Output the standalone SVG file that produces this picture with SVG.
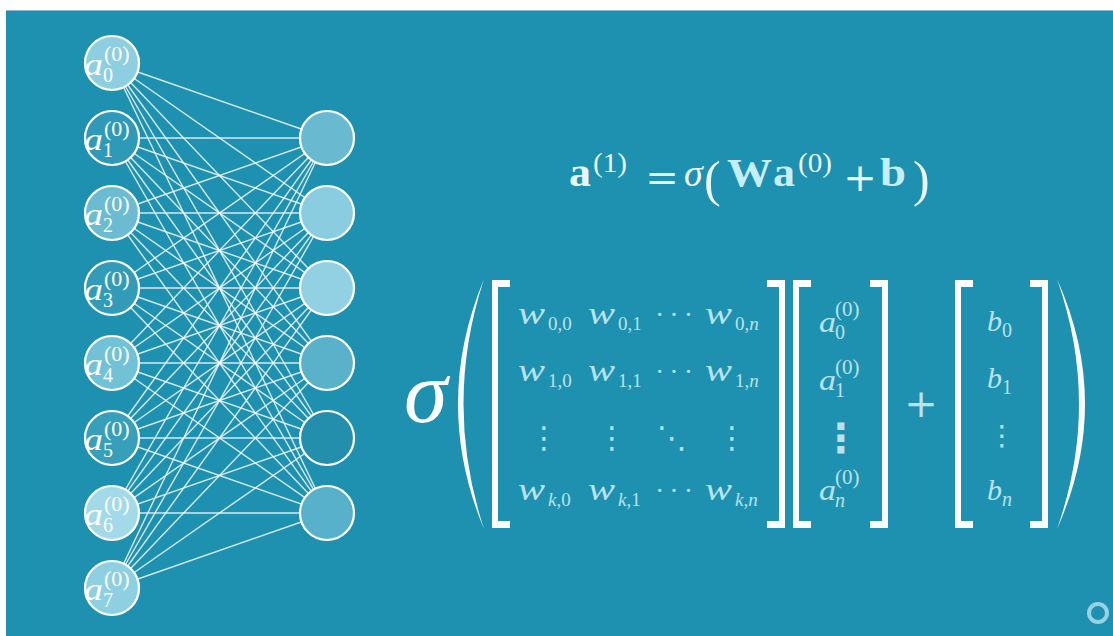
<svg xmlns="http://www.w3.org/2000/svg" width="1113" height="636" viewBox="0 0 1113 636">
<style>
.node{stroke:#ffffff;stroke-width:2.2}
.edge{stroke:#ffffff;stroke-opacity:0.8;stroke-width:1.4}
.lab{font-family:"Liberation Serif",serif;fill:#ffffff}
.it{font-style:italic}
.bd{font-weight:bold}
.f{font-family:"Liberation Serif",serif;fill:#e9f5f8}
.fc{font-family:"Liberation Serif",serif;fill:#c6eef8}
.m{font-family:"Liberation Serif",serif;fill:#b7e3ee}
.sym{font-family:"DejaVu Serif",serif}
.dots{font-family:"DejaVu Sans",sans-serif}
.br{fill:#ffffff}
</style>
<rect x="0" y="0" width="1113" height="636" fill="#ffffff"/>
<rect x="6" y="10" width="1107" height="626" fill="#1f91b0"/>
<line x1="6" y1="10.5" x2="1113" y2="10.5" stroke="#8fb8e0" stroke-width="1"/>

<g id="connectors">
<line class="edge" x1="112" y1="63" x2="327" y2="138"/><line class="edge" x1="112" y1="63" x2="327" y2="213"/><line class="edge" x1="112" y1="63" x2="327" y2="288"/><line class="edge" x1="112" y1="63" x2="327" y2="363"/><line class="edge" x1="112" y1="63" x2="327" y2="438"/><line class="edge" x1="112" y1="63" x2="327" y2="513"/>
<line class="edge" x1="112" y1="138" x2="327" y2="138"/><line class="edge" x1="112" y1="138" x2="327" y2="213"/><line class="edge" x1="112" y1="138" x2="327" y2="288"/><line class="edge" x1="112" y1="138" x2="327" y2="363"/><line class="edge" x1="112" y1="138" x2="327" y2="438"/><line class="edge" x1="112" y1="138" x2="327" y2="513"/>
<line class="edge" x1="112" y1="213" x2="327" y2="138"/><line class="edge" x1="112" y1="213" x2="327" y2="213"/><line class="edge" x1="112" y1="213" x2="327" y2="288"/><line class="edge" x1="112" y1="213" x2="327" y2="363"/><line class="edge" x1="112" y1="213" x2="327" y2="438"/><line class="edge" x1="112" y1="213" x2="327" y2="513"/>
<line class="edge" x1="112" y1="288" x2="327" y2="138"/><line class="edge" x1="112" y1="288" x2="327" y2="213"/><line class="edge" x1="112" y1="288" x2="327" y2="288"/><line class="edge" x1="112" y1="288" x2="327" y2="363"/><line class="edge" x1="112" y1="288" x2="327" y2="438"/><line class="edge" x1="112" y1="288" x2="327" y2="513"/>
<line class="edge" x1="112" y1="363" x2="327" y2="138"/><line class="edge" x1="112" y1="363" x2="327" y2="213"/><line class="edge" x1="112" y1="363" x2="327" y2="288"/><line class="edge" x1="112" y1="363" x2="327" y2="363"/><line class="edge" x1="112" y1="363" x2="327" y2="438"/><line class="edge" x1="112" y1="363" x2="327" y2="513"/>
<line class="edge" x1="112" y1="438" x2="327" y2="138"/><line class="edge" x1="112" y1="438" x2="327" y2="213"/><line class="edge" x1="112" y1="438" x2="327" y2="288"/><line class="edge" x1="112" y1="438" x2="327" y2="363"/><line class="edge" x1="112" y1="438" x2="327" y2="438"/><line class="edge" x1="112" y1="438" x2="327" y2="513"/>
<line class="edge" x1="112" y1="513" x2="327" y2="138"/><line class="edge" x1="112" y1="513" x2="327" y2="213"/><line class="edge" x1="112" y1="513" x2="327" y2="288"/><line class="edge" x1="112" y1="513" x2="327" y2="363"/><line class="edge" x1="112" y1="513" x2="327" y2="438"/><line class="edge" x1="112" y1="513" x2="327" y2="513"/>
<line class="edge" x1="112" y1="588" x2="327" y2="138"/><line class="edge" x1="112" y1="588" x2="327" y2="213"/><line class="edge" x1="112" y1="588" x2="327" y2="288"/><line class="edge" x1="112" y1="588" x2="327" y2="363"/><line class="edge" x1="112" y1="588" x2="327" y2="438"/><line class="edge" x1="112" y1="588" x2="327" y2="513"/>
</g>

<g id="in0"><circle class="node" cx="112" cy="63" r="27" fill="#8dcfe0"/><text class="lab it" x="84" y="75" font-size="32" textLength="19" lengthAdjust="spacingAndGlyphs">a</text><text class="lab" x="103" y="82" font-size="20">0</text><text class="lab" x="104" y="61" font-size="22">(0)</text></g>
<g id="in1"><circle class="node" cx="112" cy="138" r="27" fill="#2e9ab7"/><text class="lab it" x="84" y="150" font-size="32" textLength="19" lengthAdjust="spacingAndGlyphs">a</text><text class="lab" x="103" y="157" font-size="20">1</text><text class="lab" x="104" y="136" font-size="22">(0)</text></g>
<g id="in2"><circle class="node" cx="112" cy="213" r="27" fill="#6bbcd3"/><text class="lab it" x="84" y="225" font-size="32" textLength="19" lengthAdjust="spacingAndGlyphs">a</text><text class="lab" x="103" y="232" font-size="20">2</text><text class="lab" x="104" y="211" font-size="22">(0)</text></g>
<g id="in3"><circle class="node" cx="112" cy="288" r="27" fill="#329cb8"/><text class="lab it" x="84" y="300" font-size="32" textLength="19" lengthAdjust="spacingAndGlyphs">a</text><text class="lab" x="103" y="307" font-size="20">3</text><text class="lab" x="104" y="286" font-size="22">(0)</text></g>
<g id="in4"><circle class="node" cx="112" cy="363" r="27" fill="#72c2d7"/><text class="lab it" x="84" y="375" font-size="32" textLength="19" lengthAdjust="spacingAndGlyphs">a</text><text class="lab" x="103" y="382" font-size="20">4</text><text class="lab" x="104" y="361" font-size="22">(0)</text></g>
<g id="in5"><circle class="node" cx="112" cy="438" r="27" fill="#379fba"/><text class="lab it" x="84" y="450" font-size="32" textLength="19" lengthAdjust="spacingAndGlyphs">a</text><text class="lab" x="103" y="457" font-size="20">5</text><text class="lab" x="104" y="436" font-size="22">(0)</text></g>
<g id="in6"><circle class="node" cx="112" cy="513" r="27" fill="#a2daea"/><text class="lab it" x="84" y="525" font-size="32" textLength="19" lengthAdjust="spacingAndGlyphs">a</text><text class="lab" x="103" y="532" font-size="20">6</text><text class="lab" x="104" y="511" font-size="22">(0)</text></g>
<g id="in7"><circle class="node" cx="112" cy="588" r="27" fill="#8ed0e2"/><text class="lab it" x="84" y="600" font-size="32" textLength="19" lengthAdjust="spacingAndGlyphs">a</text><text class="lab" x="103" y="607" font-size="20">7</text><text class="lab" x="104" y="586" font-size="22">(0)</text></g>

<g id="out0"><circle class="node" cx="327" cy="138" r="27" fill="#69bad0"/></g>
<g id="out1"><circle class="node" cx="327" cy="213" r="27" fill="#8bcde0"/></g>
<g id="out2"><circle class="node" cx="327" cy="288" r="27" fill="#91d1e3"/></g>
<g id="out3"><circle class="node" cx="327" cy="363" r="27" fill="#5ab2ca"/></g>
<g id="out4"><circle class="node" cx="327" cy="438" r="27" fill="#238fad"/></g>
<g id="out5"><circle class="node" cx="327" cy="513" r="27" fill="#58b1ca"/></g>

<g id="formula">
<text class="f bd" x="569" y="186" font-size="40" textLength="22" lengthAdjust="spacingAndGlyphs">a</text>
<text class="f" x="593" y="172" font-size="27" textLength="34" lengthAdjust="spacingAndGlyphs">(1)</text>
<text class="f sym" x="662" y="191" font-size="40" text-anchor="middle">=</text>
<text class="f it" x="684" y="186" font-size="38">σ</text>
<text class="f" x="704" y="196" font-size="50">(</text>
<text class="fc bd" x="727" y="186" font-size="40" textLength="45" lengthAdjust="spacingAndGlyphs">W</text>
<text class="fc bd" x="773" y="186" font-size="40" textLength="22" lengthAdjust="spacingAndGlyphs">a</text>
<text class="f" x="798" y="172" font-size="27" textLength="34" lengthAdjust="spacingAndGlyphs">(0)</text>
<text class="f sym" x="860" y="191" font-size="40" text-anchor="middle">+</text>
<text class="fc bd" x="880" y="186" font-size="40" textLength="26" lengthAdjust="spacingAndGlyphs">b</text>
<text class="f" x="913" y="196" font-size="50">)</text>
</g>

<g id="sigma"><text class="lab it" x="404" y="422" font-size="88">σ</text></g>

<g id="parens">
<path class="br" d="M484,279 Q432,404 484,529 Q443,404 484,279 Z"/>
<path class="br" d="M1057,279 Q1113,404 1057,529 Q1101,404 1057,279 Z"/>
</g>

<g id="brackets">
<path class="br" d="M492,280 H510 V287 H498 V521 H510 V528 H492 Z"/>
<path class="br" d="M785,280 H767 V287 H779 V521 H767 V528 H785 Z"/>
<path class="br" d="M793,280 H811 V287 H799 V521 H811 V528 H793 Z"/>
<path class="br" d="M888,280 H870 V287 H882 V521 H870 V528 H888 Z"/>
<path class="br" d="M955,280 H973 V287 H961 V521 H973 V528 H955 Z"/>
<path class="br" d="M1048,280 H1030 V287 H1042 V521 H1030 V528 H1048 Z"/>
</g>

<g id="weights">
<text class="m it" x="518" y="324" font-size="31" textLength="27" lengthAdjust="spacingAndGlyphs">w</text><text class="m" x="548" y="330" font-size="19">0,0</text>
<text class="m it" x="588" y="324" font-size="31" textLength="27" lengthAdjust="spacingAndGlyphs">w</text><text class="m" x="618" y="330" font-size="19">0,1</text>
<text class="m" x="655" y="324" font-size="28" letter-spacing="5">···</text>
<text class="m it" x="705" y="324" font-size="31" textLength="27" lengthAdjust="spacingAndGlyphs">w</text><text class="m" x="735" y="330" font-size="19">0,<tspan font-style="italic">n</tspan></text>
<text class="m it" x="518" y="381" font-size="31" textLength="27" lengthAdjust="spacingAndGlyphs">w</text><text class="m" x="548" y="387" font-size="19">1,0</text>
<text class="m it" x="588" y="381" font-size="31" textLength="27" lengthAdjust="spacingAndGlyphs">w</text><text class="m" x="618" y="387" font-size="19">1,1</text>
<text class="m" x="655" y="381" font-size="28" letter-spacing="5">···</text>
<text class="m it" x="705" y="381" font-size="31" textLength="27" lengthAdjust="spacingAndGlyphs">w</text><text class="m" x="735" y="387" font-size="19">1,<tspan font-style="italic">n</tspan></text>
<text class="m dots" x="544" y="448" font-size="30" text-anchor="middle">⋮</text>
<text class="m dots" x="612" y="448" font-size="30" text-anchor="middle">⋮</text>
<text class="m dots" x="672" y="448" font-size="30" text-anchor="middle">⋱</text>
<text class="m dots" x="732" y="448" font-size="30" text-anchor="middle">⋮</text>
<text class="m it" x="518" y="500" font-size="31" textLength="27" lengthAdjust="spacingAndGlyphs">w</text><text class="m" x="548" y="506" font-size="19"><tspan font-style="italic">k</tspan>,0</text>
<text class="m it" x="588" y="500" font-size="31" textLength="27" lengthAdjust="spacingAndGlyphs">w</text><text class="m" x="618" y="506" font-size="19"><tspan font-style="italic">k</tspan>,1</text>
<text class="m" x="655" y="500" font-size="28" letter-spacing="5">···</text>
<text class="m it" x="705" y="500" font-size="31" textLength="27" lengthAdjust="spacingAndGlyphs">w</text><text class="m" x="735" y="506" font-size="19"><tspan font-style="italic">k</tspan>,<tspan font-style="italic">n</tspan></text>
</g>

<g id="avec">
<text class="m it" x="819" y="332" font-size="30" textLength="17" lengthAdjust="spacingAndGlyphs">a</text><text class="m" x="835" y="339" font-size="20">0</text><text class="m" x="835" y="316" font-size="21">(0)</text>
<text class="m it" x="819" y="390" font-size="30" textLength="17" lengthAdjust="spacingAndGlyphs">a</text><text class="m" x="835" y="397" font-size="20">1</text><text class="m" x="835" y="374" font-size="21">(0)</text>
<text class="m dots" x="841" y="452" font-size="40" font-weight="bold" text-anchor="middle">⋮</text>
<text class="m it" x="819" y="500" font-size="30" textLength="17" lengthAdjust="spacingAndGlyphs">a</text><text class="m it" x="835" y="507" font-size="20">n</text><text class="m" x="835" y="484" font-size="21">(0)</text>
</g>

<g id="plus"><text class="m sym" x="921" y="417" font-size="40" text-anchor="middle">+</text></g>

<g id="bvec">
<text class="m it" x="987" y="331" font-size="30">b</text><text class="m" x="1002" y="337" font-size="20">0</text>
<text class="m it" x="987" y="388" font-size="30">b</text><text class="m" x="1002" y="394" font-size="20">1</text>
<text class="m dots" x="1002" y="445" font-size="28" text-anchor="middle">⋮</text>
<text class="m it" x="987" y="500" font-size="30">b</text><text class="m it" x="1002" y="506" font-size="20">n</text>
</g>

<circle cx="1098" cy="613" r="9" fill="none" stroke="#b5e2ec" stroke-opacity="0.8" stroke-width="4"/>
</svg>
